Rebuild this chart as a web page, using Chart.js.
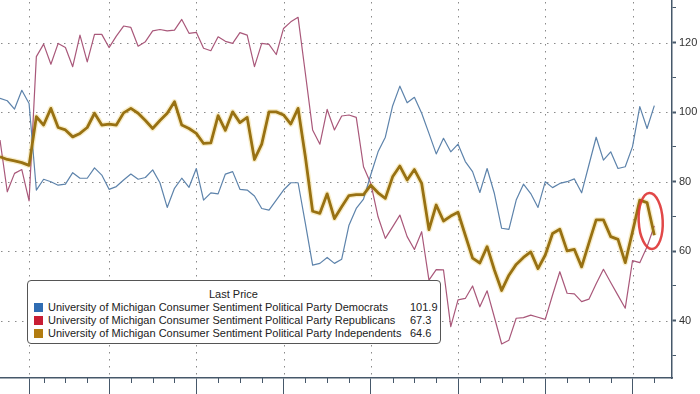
<!DOCTYPE html>
<html>
<head>
<meta charset="utf-8">
<script src="https://cdn.jsdelivr.net/npm/chart.js@4.4.1/dist/chart.umd.min.js"></script>
<style>
  body { margin: 0; background: #fff; }
  #wrap { position: relative; width: 700px; height: 394px; overflow: hidden; }
  #legend {
    position: absolute; left: 27px; top: 280px; width: 412px; height: 62px;
    border: 1px solid #555; border-radius: 4px; background: #fff;
    font-family: "Liberation Sans", Arial, sans-serif; font-size: 11px; color: #222;
  }
  #legend .head { position: absolute; left: 181px; top: 7px; }
  #legend .row { position: absolute; left: 6px; height: 13px; line-height: 13px; white-space: nowrap; }
  #legend .sw { position: absolute; left: 0; top: 2px; width: 9px; height: 9px; }
  #legend .name { position: absolute; left: 14px; top: 0; }
  #legend .val { position: absolute; left: 376px; top: 0; }
</style>
</head>
<body>
<div id="wrap">
  <canvas id="myChart" width="700" height="394"></canvas>
  <div id="legend"></div>
</div>
<script>
/* series values, one per month */
var dem = [104.0,103.3,100.9,106.3,102.5,77.6,80.7,80.0,79.0,79.3,
  82.6,81.0,81.0,84.0,81.9,77.8,78.6,80.5,82.2,80.7,
  81.2,83.4,79.7,72.6,78.1,81.0,78.4,83.8,74.7,76.8,
  76.5,82.2,82.9,77.8,77.6,75.9,72.3,71.8,74.7,77.6,
  79.7,79.7,68.0,56.0,56.5,58.2,56.5,57.7,67.5,72.3,
  75.0,82.0,88.6,92.8,101.8,107.5,102.7,104.3,99.7,93.9,
  88.0,92.5,88.6,90.8,85.8,82.9,76.9,83.8,76.6,66.6,
  66.3,74.7,79.3,76.6,72.6,80.0,78.3,79.5,80.0,80.8,
  76.8,84.8,92.8,86.2,88.6,83.8,84.3,90.1,101.6,95.3,
  101.9];

var rep = [92.0,77.1,82.4,83.5,74.5,116.0,119.6,113.8,119.8,118.6,
  113.1,122.2,114.5,122.4,122.4,118.6,121.9,124.8,124.4,119.0,
  120.3,123.4,123.8,123.4,123.6,126.7,122.7,123.0,118.4,117.7,
  121.7,120.4,119.8,122.9,122.2,113.1,119.8,119.5,116.6,124.1,
  126.0,127.3,111.2,94.9,90.8,100.8,94.9,98.9,99.2,98.5,
  84.3,79.5,69.9,63.7,67.0,70.4,64.2,60.5,65.6,51.7,
  54.7,54.6,38.3,46.0,46.4,50.0,44.0,48.6,41.0,33.3,
  34.4,40.7,40.9,41.6,41.0,40.4,47.4,54.1,47.9,47.7,
  45.5,46.2,50.6,54.8,51.0,47.3,43.6,57.3,56.7,61.3,
  67.3];

var ind = [87.2,86.4,86.0,85.5,84.7,98.7,96.3,101.1,95.6,94.9,
  92.9,93.9,95.6,99.7,96.3,96.6,96.3,99.8,101.1,99.7,
  97.6,95.3,97.6,99.7,103.0,96.3,95.3,93.9,91.0,91.2,
  99.0,94.8,100.1,97.0,98.5,86.4,90.8,100.1,100.1,99.2,
  96.6,101.1,87.2,71.5,70.9,76.5,69.4,72.8,76.0,76.3,
  76.3,79.0,76.8,75.2,81.4,84.5,80.5,83.5,79.5,66.2,
  73.3,68.7,70.1,71.2,64.6,58.0,56.6,61.3,54.6,48.7,
  53.1,56.2,58.2,59.8,55.0,58.9,65.1,66.3,60.1,60.5,
  55.5,62.3,69.0,69.0,64.2,63.4,56.7,65.6,74.7,74.0,
  64.6];

var seriesNames = [
  'University of Michigan Consumer Sentiment Political Party Democrats',
  'University of Michigan Consumer Sentiment Political Party Republicans',
  'University of Michigan Consumer Sentiment Political Party Independents'
];
var swatchColors = ['#2f6db3', '#c81d33', '#b27c10'];

// month positions of the year lines and the quarter ticks
var yearTicks = [4, 15, 27, 39, 51, 63, 75, 87];
var quarterTicks = [6, 9, 12, 18, 21, 24, 30, 33, 36, 42, 45, 48, 54, 57, 60, 66, 69, 72, 78, 81, 84, 90];
var yTicks = [30, 40, 50, 60, 70, 80, 90, 100, 110, 120, 130];
var yGrid = [40, 60, 80, 100, 120];

var axisColor = '#46586a';
var gridColor = '#8a8a8a';

function toPoints(arr) {
  return arr.map(function(v, i) { return {x: i, y: v}; });
}

/* builds the little legend box */
function buildLegend() {
  var box = document.getElementById('legend');
  var head = document.createElement('div');
  head.className = 'head';
  head.textContent = 'Last Price';
  box.appendChild(head);
  var lasts = [dem, rep, ind].map(function(a) { return a[a.length - 1].toFixed(1); });
  seriesNames.forEach(function(name, i) {
    var row = document.createElement('div');
    row.className = 'row';
    row.style.top = (20 + i * 13) + 'px';
    row.style.width = '400px';
    row.innerHTML = '<span class="sw" style="background:' + swatchColors[i] + '"></span>' +
      '<span class="name">' + name + '</span><span class="val">' + lasts[i] + '</span>';
    box.appendChild(row);
  });
}

// dotted grid behind the lines
var dottedGrid = {
  id: 'dottedGrid',
  beforeDatasetsDraw: function(chart) {
    var ctx = chart.ctx, x = chart.scales.x, y = chart.scales.y, area = chart.chartArea;
    ctx.save();
    ctx.fillStyle = gridColor;
    yearTicks.forEach(function(t) {
      var px = Math.round(x.getPixelForValue(t));
      for (var py = area.top + 2; py < area.bottom; py += 7) ctx.fillRect(px, py, 1, 1.5);
    });
    yGrid.forEach(function(t) {
      var py = Math.round(y.getPixelForValue(t));
      for (var px = area.left + 1; px < area.right - 1; px += 7) ctx.fillRect(px, py, 1.5, 1);
    });
    ctx.restore();
  }
};

// quarter ticks under the axis and the red ring round the last points
var extras = {
  id: 'extras',
  afterDatasetsDraw: function(chart) {
    var ctx = chart.ctx, x = chart.scales.x, y = chart.scales.y, area = chart.chartArea;
    ctx.save();
    ctx.strokeStyle = axisColor;
    ctx.lineWidth = 1;
    quarterTicks.forEach(function(q) {
      var px = Math.round(x.getPixelForValue(q)) + 0.5;
      ctx.beginPath();
      ctx.moveTo(px, area.bottom);
      ctx.lineTo(px, area.bottom + 5);
      ctx.stroke();
    });
    ctx.strokeStyle = 'rgba(222,52,52,0.9)';
    ctx.lineWidth = 2.5;
    ctx.beginPath();
    ctx.ellipse(x.getPixelForValue(89.5), y.getPixelForValue(68.7), 12, 28, -0.05, 0, Math.PI * 2);
    ctx.stroke();
    ctx.restore();
  }
};

var config = {
  type: 'line',
  data: {
    datasets: [
      { label: 'Independents', data: toPoints(ind), borderColor: '#987112', borderWidth: 2.8, order: 0 },
      { label: 'Democrats', data: toPoints(dem), borderColor: '#5d83ab', borderWidth: 1.2, order: 1 },
      { label: 'Republicans', data: toPoints(rep), borderColor: '#a9587a', borderWidth: 1.2, order: 2 },
      { label: 'glow', data: toPoints(ind), borderColor: 'rgba(238,210,120,0.4)', borderWidth: 5.5, order: 3 }
    ]
  },
  options: {
    responsive: false,
    animation: false,
    devicePixelRatio: 1,
    layout: { padding: 0 },
    elements: { point: { radius: 0 }, line: { tension: 0, borderJoinStyle: 'round' } },
    plugins: { legend: { display: false }, tooltip: { enabled: false } },
    scales: {
      x: {
        type: 'linear', position: 'bottom', min: 0, max: 92.43,
        afterBuildTicks: function(scale) { scale.ticks = yearTicks.map(function(v) { return {value: v}; }); },
        afterFit: function(scale) { scale.paddingLeft = 0; scale.paddingRight = 0; },
        ticks: { display: false },
        grid: { drawOnChartArea: false, tickLength: 16, tickColor: axisColor, tickWidth: 1 },
        border: { display: true, color: axisColor, width: 1.5 }
      },
      y: {
        type: 'linear', position: 'right', min: 23.51, max: 132.29,
        afterBuildTicks: function(scale) { scale.ticks = yTicks.map(function(v) { return {value: v}; }); },
        afterFit: function(scale) { scale.width = 28; scale.paddingTop = 0; scale.paddingBottom = 0; },
        ticks: {
          padding: 3, color: '#333',
          font: { family: 'Liberation Sans', size: 11 },
          callback: function(v) { return yGrid.indexOf(v) >= 0 ? v : ''; }
        },
        grid: {
          drawOnChartArea: false,
          tickLength: 4,
          tickColor: axisColor,
          tickWidth: function(c) { var v = c.tick && c.tick.value; return yGrid.indexOf(v) >= 0 ? 2 : 1; }
        },
        border: { display: true, color: axisColor, width: 1.5 }
      }
    }
  },
  plugins: [dottedGrid, extras]
};

buildLegend();
var ctx = document.getElementById('myChart').getContext('2d');
window.lineChart = new Chart(ctx, config);
</script>
</body>
</html>
